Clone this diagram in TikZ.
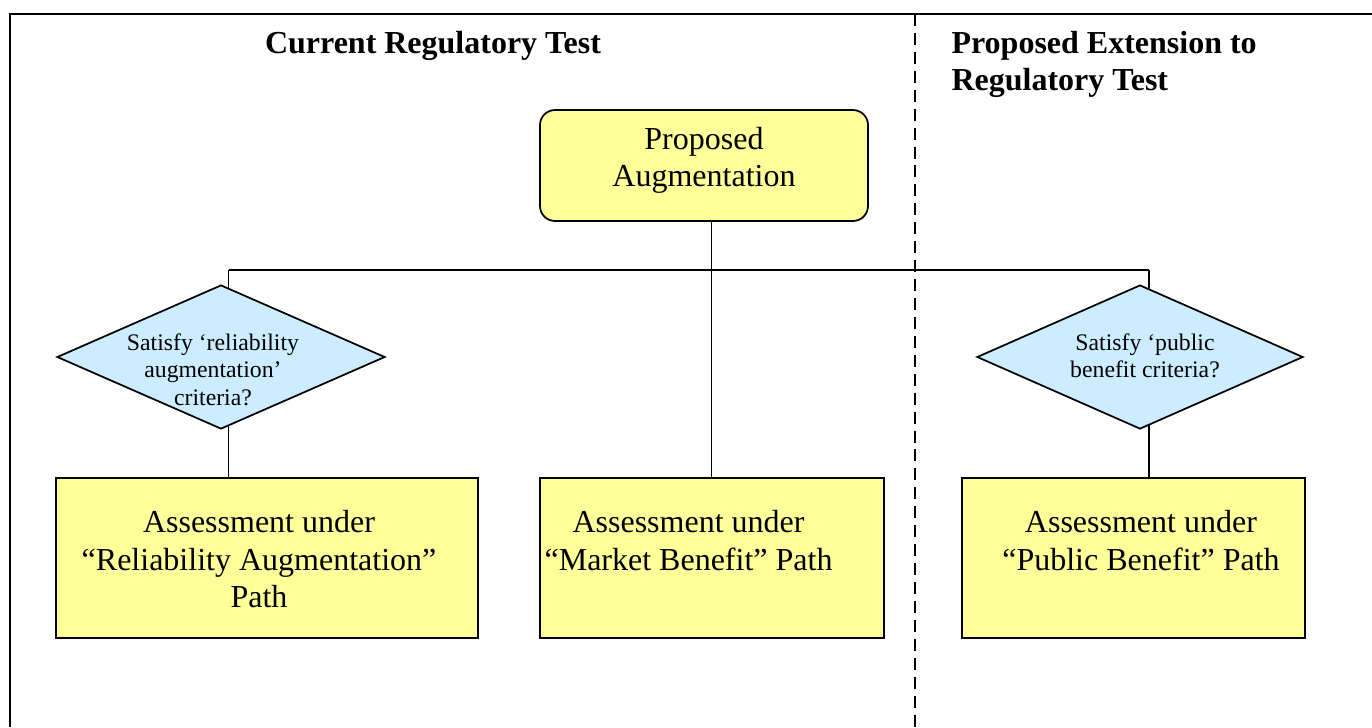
\documentclass[tikz,border=0pt]{standalone}
\usepackage{fontspec}
\setmainfont{Liberation Serif}
\usetikzlibrary{shapes.geometric,backgrounds}
\definecolor{boxyellow}{HTML}{FFFF99}
\definecolor{diamondblue}{HTML}{CCECFF}

% Stacked lines whose first baseline sits #2 above the node centre,
% moved sideways by half of the kern #1.
\newcommand\cellstack[3]{\makebox[0pt]{\kern#1\raisebox{#2}[0pt][0pt]{\begin{tabular}[t]{@{}c@{}}#3\end{tabular}}}}

\tikzset{
  panel/.style={draw, line width=0.65pt, fill=boxyellow, inner sep=0pt,
    font=\fontsize{12}{13.9}\selectfont},
  startbox/.style={panel, rounded corners=5.6pt},
  decision/.style={diamond, draw, line width=0.65pt, fill=diamondblue, inner sep=0pt,
    font=\fontsize{8.9}{10.3}\selectfont},
  link/.style={line width=0.65pt},
  divider/.style={dash pattern=on 4.5pt off 2.6pt, line width=0.65pt},
  frame/.style={line width=0.75pt},
  heading/.style={font=\fontsize{12}{13.9}\selectfont\bfseries, inner sep=0pt},
}

\begin{document}
\begin{tikzpicture}[x=0.375pt, y=-0.375pt]
  \useasboundingbox (0,0) rectangle (1372,727);

  % outer frame and the dashed split between the two regimes
  \draw[frame] (10,727) -- (10,14) -- (1372,14);
  \draw[divider] (915,14) -- (915,727);

  % headings
  \node[heading, anchor=base] (curhead) at (433,53.5) {Current Regulatory Test};
  \node[heading, anchor=base west] (exthead) at (951,53.5)
    {\begin{tabular}[t]{@{}l@{}}Proposed Extension to\\Regulatory Test\end{tabular}};

  % starting point
  \node[startbox, minimum width=123pt, minimum height=41.6pt] (start) at (704,165.5)
    {\cellstack{0pt}{6pt}{Proposed\\Augmentation}};

  % decisions
  \node[decision, minimum width=123pt, minimum height=54pt] (reliabq) at (221,357)
    {\cellstack{-6pt}{2.6pt}{Satisfy ‘reliability\\augmentation’\\criteria?}};
  \node[decision, minimum width=122.3pt, minimum height=54pt] (publicq) at (1140,357)
    {\cellstack{3.75pt}{2.6pt}{Satisfy ‘public\\benefit criteria?}};

  % assessment paths
  \node[panel, minimum width=158.25pt, minimum height=60pt] (reliab) at (267,558)
    {\cellstack{-6pt}{9.4pt}{Assessment under\\“Reliability Augmentation”\\Path}};
  \node[panel, minimum width=129pt, minimum height=60pt] (market) at (712,558)
    {\cellstack{-17.6pt}{9.4pt}{Assessment under\\“Market Benefit” Path}};
  \node[panel, minimum width=128.6pt, minimum height=60pt] (public) at (1133.5,558)
    {\cellstack{5.6pt}{9.4pt}{Assessment under\\“Public Benefit” Path}};

  % branching bus
  \coordinate (busL) at (228.5,270);
  \coordinate (busR) at (1149,270);
  \coordinate (trunk) at (711.5,270);

  \begin{scope}[on background layer]
    \draw[link] (busL) -- (busR);
    \draw[link] (busL) -- (busL |- reliab.north);
    \draw[link] (busR) -- (busR |- public.north);
    \draw[link] (trunk |- start.south) -- (trunk |- market.north);
  \end{scope}
\end{tikzpicture}
\end{document}
